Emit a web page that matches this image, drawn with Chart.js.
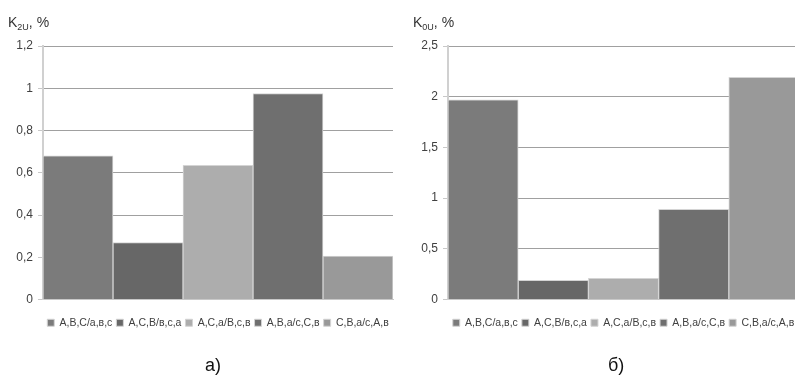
<!DOCTYPE html>
<html><head><meta charset="utf-8">
<script src="https://cdn.jsdelivr.net/npm/chart.js@4/dist/chart.umd.min.js"></script>
<style>
html,body{margin:0;padding:0;background:#fff}
body{width:795px;height:379px;overflow:hidden;position:relative;font-family:"Liberation Sans",sans-serif}
.box{position:absolute;top:0;height:379px}
.ylab{position:absolute;font-family:"Liberation Sans",sans-serif;font-size:14px;color:#333;line-height:16px}
.ylab sub{font-size:9px;vertical-align:-3px;line-height:0}
.cap{position:absolute;font-family:"Liberation Sans",Arial,sans-serif;font-size:18px;color:#111;line-height:20px}
</style></head><body>
<div class="box" style="left:0;width:394px"><canvas id="c1"></canvas></div>
<div class="box" style="left:400px;width:400px"><canvas id="c2"></canvas></div>
<div class="ylab" style="left:8px;top:14px">K<sub>2U</sub>, %</div>
<div class="ylab" style="left:413px;top:14px">K<sub>0U</sub>, %</div>
<div class="cap" style="left:205px;top:355px">а)</div>
<div class="cap" style="left:608px;top:355px">б)</div>
<script>
const seriesLabels = ['A,B,C/a,в,c','A,C,B/в,c,a','A,C,a/B,c,в','A,B,a/c,C,в','C,B,a/c,A,в'];
const k2uValues = [0.68, 0.27, 0.635, 0.975, 0.205];
const k0uValues = [1.97, 0.19, 0.21, 0.89, 2.19];
const k2uTicks = {min: 0, max: 1.2, step: 0.2};
const k0uTicks = {min: 0, max: 2.5, step: 0.5};
const barColors = ['#7b7b7b','#676767','#adadad','#6f6f6f','#999999'];

function fmt(v){ return String(+Number(v).toFixed(1)).replace('.', ','); }

function makeChart(id, values, tk, axisWidth){
  const datasets = seriesLabels.map((lab, i) => ({
    label: lab,
    data: [values[i]],
    backgroundColor: barColors[i],
    borderColor: '#d4d4d4',
    borderWidth: 1,
    categoryPercentage: 1.0,
    barPercentage: 1.0
  }));
  return new Chart(document.getElementById(id), {
    type: 'bar',
    data: { labels: [''], datasets },
    options: {
      responsive: true,
      maintainAspectRatio: false,
      animation: false,
      layout: { padding: { top: 46, right: 1, bottom: 41, left: 0 } },
      plugins: {
        tooltip: { enabled: false },
        legend: {
          position: 'bottom',
          fullSize: false,
          labels: {
            boxWidth: 7, boxHeight: 7, padding: 4,
            color: '#404040',
            font: { family: '"Liberation Sans",sans-serif', size: 10.5 }
          }
        }
      },
      scales: {
        x: {
          afterFit: s => { s.height = 14; },
          ticks: { display: false },
          grid: { display: false },
          border: { display: true, color: '#c8c8c8', width: 1 }
        },
        y: {
          min: tk.min, max: tk.max,
          afterFit: s => { s.width = axisWidth; },
          ticks: {
            stepSize: tk.step,
            padding: 5,
            color: '#404040',
            font: { family: '"Liberation Sans",sans-serif', size: 12 },
            callback: v => fmt(v)
          },
          grid: { color: '#a0a0a0', tickLength: 5, tickColor: '#c8c8c8', drawTicks: true },
          border: { display: true, color: '#d0d0d0', width: 2 }
        }
      }
    }
  });
}
makeChart('c1', k2uValues, k2uTicks, 43);
makeChart('c2', k0uValues, k0uTicks, 48);
</script>
</body></html>
